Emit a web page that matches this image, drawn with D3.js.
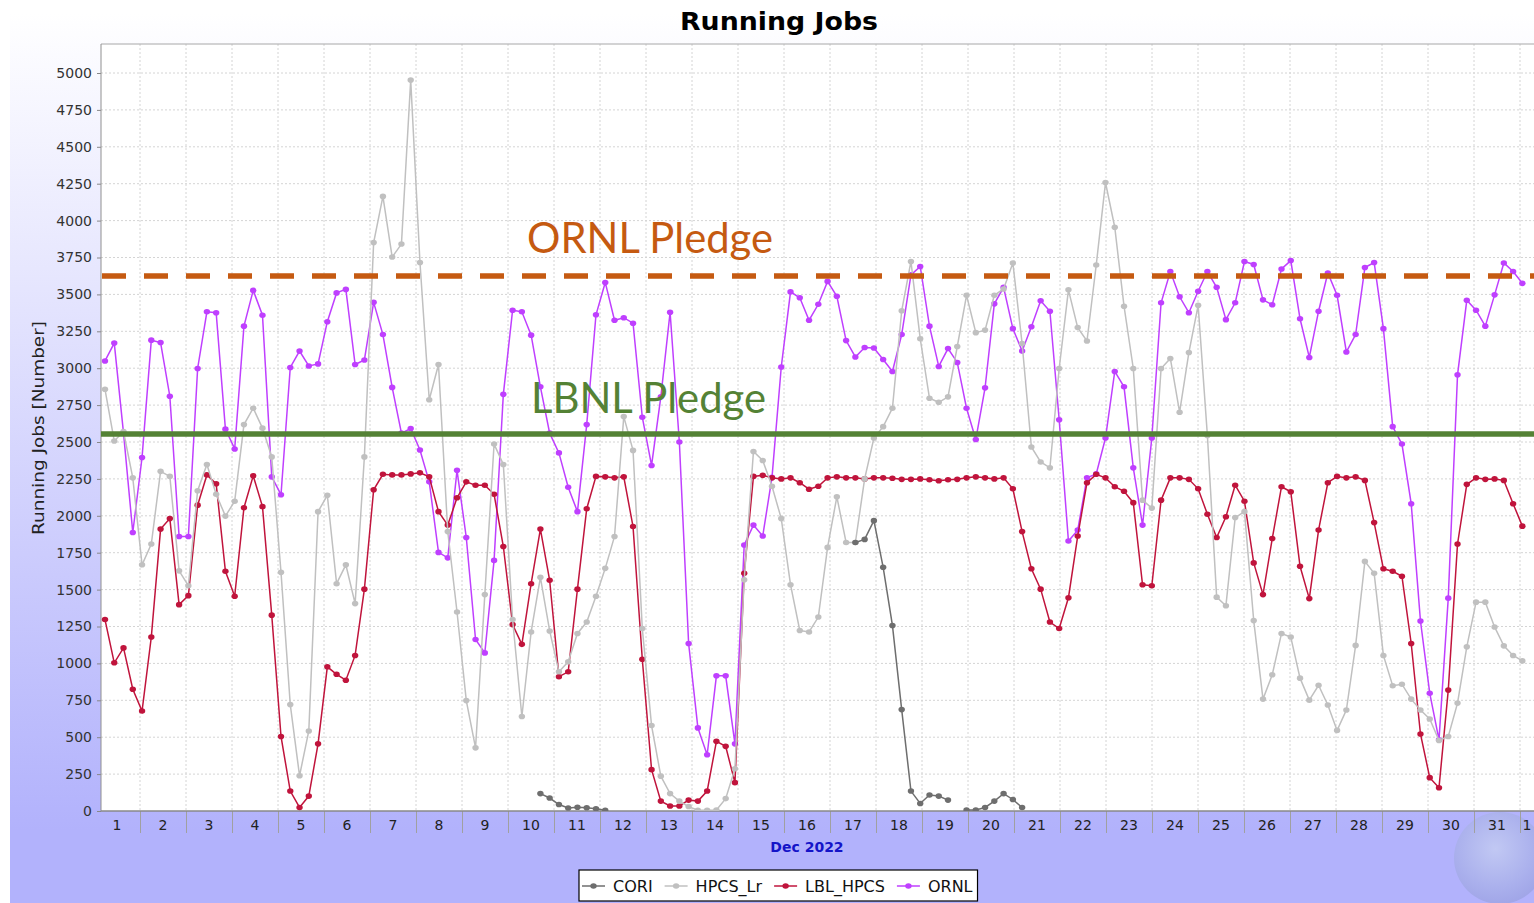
<!DOCTYPE html>
<html><head><meta charset="utf-8">
<script src="https://cdn.jsdelivr.net/npm/d3@7"></script>
<style>html,body{margin:0;padding:0;background:#fff;overflow:hidden}</style>
</head><body>
<svg id="chart" width="1534" height="903"></svg>
<script>
// ---- data ----
const title = "Running Jobs";
const yLabel = "Running Jobs [Number]";
const xLabel = "Dec 2022";
const seriesNames = ["CORI", "HPCS_Lr", "LBL_HPCS", "ORNL"];
const seriesColors = ["#6e6e6e", "#c0c0c0", "#c0143c", "#bf3fff"];
const yTicks = [0,250,500,750,1000,1250,1500,1750,2000,2250,2500,2750,3000,3250,3500,3750,4000,4250,4500,4750,5000];
const dayLabels = ["1","2","3","4","5","6","7","8","9","10","11","12","13","14","15","16","17","18","19","20","21","22","23","24","25","26","27","28","29","30","31","1"];
const firstSample = new Date(2022, 11, 1, 5, 44);
const sampleStepMinutes = 290;
const ornlPledge = 3625;
const lbnlPledge = 2554;

const ORNL = [3049,3170,2560,1887,2395,3190,3174,2810,1860,1860,
2998,3382,3376,2587,2453,3285,3527,3359,2264,2143,
3005,3116,3015,3029,3315,3510,3534,3025,3056,3446,
3228,2870,2560,2591,2446,2230,1752,1715,2308,1853,
1162,1071,1698,2823,3393,3382,3224,2874,2560,2426,
2193,2028,2618,3362,3581,3325,3342,3305,2668,2341,
2806,3379,2500,1135,563,381,916,916,455,1802,
1937,1863,2260,3008,3517,3477,3325,3433,3588,3487,
3187,3076,3140,3137,3059,2978,3228,3632,3689,3285,
3012,3133,3039,2729,2517,2867,3436,3548,3268,3116,
3281,3457,3386,2651,1829,1903,2257,2284,2527,2978,
2874,2325,1937,2527,3443,3655,3484,3376,3521,3655,
3548,3329,3443,3723,3703,3463,3430,3672,3729,3335,
3073,3386,3645,3494,3110,3228,3682,3716,3268,2604,
2486,2082,1287,798,482,1442,2955,3460,3393,3285,
3497,3713,3655,3575];

const HPCS_Lr = [2857,2507,2571,2257,1668,1809,2301,2267,1627,1526,
2170,2348,2146,1998,2099,2618,2729,2594,2399,1617,
721,239,542,2028,2139,1540,1668,1405,2399,3851,
4164,3753,3841,4952,3716,2786,3025,1893,1348,748,
428,1466,2486,2348,1297,640,1213,1583,1220,943,
1011,1203,1280,1455,1644,1860,2672,2443,1236,579,
236,118,67,30,5,5,7,84,286,1567,
2436,2375,2200,1981,1533,1223,1213,1314,1786,2129,
1819,1819,2250,2527,2604,2729,3389,3723,3200,2796,
2769,2806,3147,3494,3241,3258,3494,3537,3713,3167,
2466,2365,2325,2998,3531,3275,3184,3699,4258,3955,
3420,2998,2106,2052,2998,3066,2702,3106,3426,2544,
1449,1391,1988,2028,1290,758,923,1203,1179,900,
751,852,718,546,684,1122,1691,1610,1054,849,
859,758,684,623,478,505,731,1112,1415,1415,
1247,1119,1054,1017];

const LBL_HPCS = [1297,1004,1105,825,677,1179,1910,1981,1398,1459,
2072,2277,2217,1624,1455,2055,2271,2062,1327,505,
135,24,101,455,977,926,886,1054,1503,2176,
2281,2277,2277,2284,2291,2264,2028,1937,2122,2230,
2207,2207,2146,1792,1263,1129,1540,1910,1563,910,
943,1503,2048,2267,2264,2257,2264,1927,1028,280,
67,34,34,74,67,135,472,438,192,1610,
2267,2274,2257,2250,2257,2224,2180,2200,2257,2264,
2257,2257,2250,2257,2257,2254,2247,2247,2250,2244,
2237,2244,2247,2257,2264,2257,2250,2257,2183,1893,
1641,1503,1280,1236,1445,1863,2224,2281,2257,2197,
2166,2089,1533,1526,2106,2257,2257,2247,2183,2011,
1853,1994,2207,2099,1681,1466,1846,2197,2163,1658,
1439,1903,2224,2267,2257,2264,2240,1954,1641,1624,
1590,1135,522,226,158,819,1809,2213,2257,2247,
2250,2240,2082,1930];

const N = null;
const CORI = [N,N,N,N,N,N,N,N,N,N,
N,N,N,N,N,N,N,N,N,N,
N,N,N,N,N,N,N,N,N,N,
N,N,N,N,N,N,N,N,N,N,
N,N,N,N,N,N,N,118,88,44,
20,25,22,15,5,N,N,N,N,N,
N,N,N,N,N,N,N,N,N,N,
N,N,N,N,N,N,N,N,N,N,
N,1819,1840,1967,1651,1257,687,135,51,108,
101,74,N,7,7,24,67,118,78,24,
N,N,N,N,N,N,N,N,N,N,
N,N,N,N,N,N,N,N,N,N,
N,N,N,N,N,N,N,N,N,N,
N,N,N,N,N,N,N,N,N,N,
N,N,N,N,N,N,N,N,N,N,
N,N,N,N];

const seriesValues = [CORI, HPCS_Lr, LBL_HPCS, ORNL];

// ---- layout ----
const W = 1534, H = 903;
const plot = {left: 101, top: 44, right: 1534, bottom: 811};
const FONT = "DejaVu Sans, sans-serif";

const svg = d3.select("#chart");
const defs = svg.append("defs");
const grad = defs.append("linearGradient").attr("id", "bg")
  .attr("gradientUnits", "userSpaceOnUse").attr("x1", 0).attr("y1", 13).attr("x2", 0).attr("y2", 830);
grad.append("stop").attr("offset", 0).attr("stop-color", "#ffffff");
grad.append("stop").attr("offset", 1).attr("stop-color", "#b2b2fc");
const gg = defs.append("radialGradient").attr("id", "globe").attr("cx", "45%").attr("cy", "40%").attr("r", "60%");
gg.append("stop").attr("offset", 0).attr("stop-color", "#c4ccf2");
gg.append("stop").attr("offset", 0.7).attr("stop-color", "#a9b0ea");
gg.append("stop").attr("offset", 1).attr("stop-color", "#9ea4e4");
defs.append("clipPath").attr("id", "plotclip").append("rect")
  .attr("x", plot.left).attr("y", plot.top).attr("width", plot.right - plot.left).attr("height", plot.bottom - plot.top);

svg.append("rect").attr("x", 10).attr("y", 13).attr("width", W - 10).attr("height", H - 13).attr("fill", "url(#bg)");
// globe watermark
svg.append("circle").attr("cx", 1500).attr("cy", 858).attr("r", 46).attr("fill", "url(#globe)").attr("opacity", 0.85);

svg.append("rect").attr("x", plot.left).attr("y", plot.top)
  .attr("width", plot.right - plot.left).attr("height", plot.bottom - plot.top).attr("fill", "#ffffff");

const x = d3.scaleTime()
  .domain([new Date(2022, 11, 1, 3, 39), new Date(2023, 0, 1, 7, 18)])
  .range([plot.left, plot.right]);
const y = d3.scaleLinear().domain([0, 5000]).range([811, 73]);

const times = ORNL.map((_, i) => new Date(firstSample.getTime() + i * sampleStepMinutes * 60000));
const dayStarts = d3.timeDay.range(new Date(2022, 11, 2), new Date(2023, 0, 2));

// grid
const grid = svg.append("g");
grid.selectAll("line.h").data(yTicks.filter(v => v > 0)).join("line")
  .attr("x1", plot.left).attr("x2", plot.right).attr("y1", d => y(d)).attr("y2", d => y(d))
  .attr("stroke", "#d4d4d4").attr("stroke-width", 1).attr("stroke-dasharray", "2,2");
grid.selectAll("line.v").data(dayStarts).join("line")
  .attr("x1", d => x(d)).attr("x2", d => x(d)).attr("y1", plot.top).attr("y2", plot.bottom)
  .attr("stroke", "#d4d4d4").attr("stroke-width", 1).attr("stroke-dasharray", "2,2");

// y axis
const yAxis = svg.append("g").attr("transform", `translate(${plot.left},0)`)
  .call(d3.axisLeft(y).tickValues(yTicks).tickSize(4).tickPadding(5).tickFormat(d3.format("d")));
yAxis.select(".domain").remove();
yAxis.selectAll(".tick line").attr("stroke", "#888");
yAxis.selectAll("text").attr("font-family", FONT).attr("font-size", 14).attr("fill", "#333");

// x axis ticks
const xAxis = svg.append("g").attr("transform", `translate(0,${plot.bottom})`)
  .call(d3.axisBottom(x).tickValues(dayStarts).tickSize(22).tickFormat(""));
xAxis.select(".domain").remove();
xAxis.selectAll(".tick line").attr("stroke", "#a0a0a0");
// day labels at noon
const labelDates = dayLabels.map((_, i) => new Date(2022, 11, 1 + i, 12));
svg.append("g").selectAll("text").data(dayLabels).join("text")
  .attr("x", (d, i) => Math.min(x(labelDates[i]), W - 7))
  .attr("y", 830).attr("text-anchor", "middle")
  .attr("font-family", FONT).attr("font-size", 14).attr("fill", "#222")
  .text(d => d);

// plot border lines
svg.append("line").attr("x1", plot.left).attr("x2", plot.right).attr("y1", plot.top).attr("y2", plot.top).attr("stroke", "#a8a8a8");
svg.append("line").attr("x1", plot.left).attr("x2", plot.left).attr("y1", plot.top).attr("y2", plot.bottom).attr("stroke", "#909090");
svg.append("line").attr("x1", plot.left).attr("x2", plot.right).attr("y1", plot.bottom).attr("y2", plot.bottom).attr("stroke", "#888").attr("stroke-width", 1.3);

// series (reverse order: ORNL bottom, CORI on top)
const gSeries = svg.append("g").attr("clip-path", "url(#plotclip)");
const line = d3.line().defined(d => d.v != null).x(d => x(d.t)).y(d => y(d.v));
for (let s = seriesNames.length - 1; s >= 0; s--) {
  const pts = seriesValues[s].map((v, i) => ({t: times[i], v}));
  const g = gSeries.append("g");
  g.append("path").datum(pts).attr("d", line).attr("fill", "none")
    .attr("stroke", seriesColors[s]).attr("stroke-width", 1.5);
  g.selectAll("ellipse").data(pts.filter(d => d.v != null)).join("ellipse")
    .attr("cx", d => x(d.t)).attr("cy", d => y(d.v)).attr("rx", 3.2).attr("ry", 2.8)
    .attr("fill", seriesColors[s]);
}

// pledge lines (overlay)
svg.append("line").attr("x1", plot.left).attr("x2", W).attr("y1", y(lbnlPledge)).attr("y2", y(lbnlPledge))
  .attr("stroke", "#548235").attr("stroke-width", 5.5);
svg.append("line").attr("x1", plot.left + 1).attr("x2", W).attr("y1", y(ornlPledge)).attr("y2", y(ornlPledge))
  .attr("stroke", "#c55a11").attr("stroke-width", 5.5).attr("stroke-dasharray", "24,18");
svg.append("text").attr("x", 527).attr("y", 253).attr("font-family", "Lato, 'Open Sans', sans-serif")
  .attr("font-size", 42).attr("fill", "#c55a11").attr("textLength", 246).attr("lengthAdjust", "spacingAndGlyphs")
  .text("ORNL Pledge");
svg.append("text").attr("x", 531).attr("y", 413).attr("font-family", "Lato, 'Open Sans', sans-serif")
  .attr("font-size", 42).attr("fill", "#548235").attr("textLength", 235).attr("lengthAdjust", "spacingAndGlyphs")
  .text("LBNL Pledge");

// titles
svg.append("text").attr("x", 779).attr("y", 30).attr("text-anchor", "middle")
  .attr("font-family", FONT).attr("font-weight", "bold").attr("font-size", 24).attr("fill", "#000")
  .attr("textLength", 198).attr("lengthAdjust", "spacingAndGlyphs").text(title);
svg.append("text").attr("transform", "translate(44,428) rotate(-90)").attr("text-anchor", "middle")
  .attr("font-family", FONT).attr("font-size", 16.5).attr("fill", "#222")
  .attr("textLength", 214).attr("lengthAdjust", "spacingAndGlyphs").text(yLabel);
svg.append("text").attr("x", 807).attr("y", 852).attr("text-anchor", "middle")
  .attr("font-family", FONT).attr("font-weight", "bold").attr("font-size", 14).attr("fill", "#1414c8").text(xLabel);

// legend
const lg = svg.append("g");
const lgBox = lg.append("rect").attr("x", 579).attr("y", 870).attr("width", 400).attr("height", 31)
  .attr("fill", "#fff").attr("stroke", "#000").attr("stroke-width", 1.2);
let cx = 582;
seriesNames.forEach((name, s) => {
  lg.append("line").attr("x1", cx).attr("x2", cx + 23).attr("y1", 886).attr("y2", 886)
    .attr("stroke", seriesColors[s]).attr("stroke-width", 1.5);
  lg.append("ellipse").attr("cx", cx + 11.5).attr("cy", 886).attr("rx", 3.2).attr("ry", 2.8).attr("fill", seriesColors[s]);
  const t = lg.append("text").attr("x", cx + 31).attr("y", 892).attr("font-family", FONT)
    .attr("font-size", 16).attr("fill", "#111").text(name);
  cx += 31 + t.node().getComputedTextLength() + 12;
});
lgBox.attr("width", cx - 12 + 5 - 579);
</script>
</body></html>
